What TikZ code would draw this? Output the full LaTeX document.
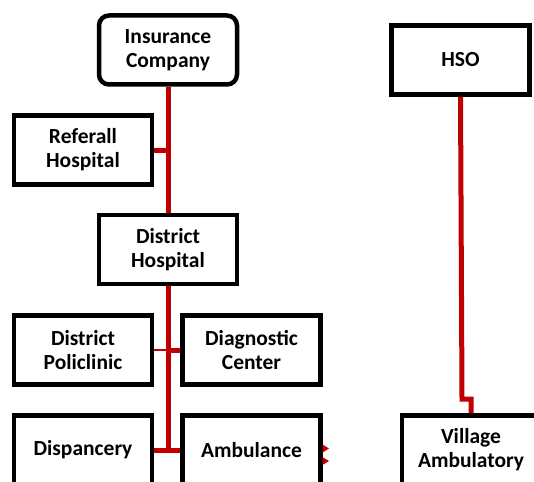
\documentclass[tikz,border=0pt]{standalone}
\usepackage{fontspec}
\setmainfont{Carlito}
\usetikzlibrary{backgrounds}
\definecolor{linkred}{RGB}{192,0,0}
\begin{document}
\begin{tikzpicture}[x=1pt,y=-1pt,
  box/.style={draw=black,line width=4.5pt,fill=white,minimum width=138pt,minimum height=69pt,
    align=center,font=\fontsize{21.5}{24}\selectfont\bfseries,inner sep=0pt},
  rbox/.style={box,rounded corners=10pt},
  link/.style={draw=linkred,line width=5pt},
  thinlink/.style={draw=linkred,line width=2pt}]
\useasboundingbox (0,0) rectangle (534,481);
\clip (0,0) rectangle (534,481);
\coordinate (trunkend) at (168,450);
\coordinate (jog) at (462,399);
\node[rbox] (ins) at (168,50) {Insurance\\Company};
\node[box] (ref) at (83,150) {Referall\\Hospital};
\node[box] (dh) at (168,249.5) {District\\Hospital};
\node[box] (pol) at (83,350) {District\\Policlinic};
\node[box] (diag) at (251.5,350) {Diagnostic\\Center};
\node[box] (disp) at (83,450) {Dispancery};
\node[box] (amb) at (251.5,450) {Ambulance};
\node[box] (hso) at (460.5,60) {HSO};
\node[box] (va) at (471,450) {Village\\Ambulatory};
\begin{scope}[on background layer]
\draw[link] (ins.south) -- (trunkend);
\draw[link] (ref.east) -- (ref.east -| trunkend);
\draw[thinlink] (pol.east) -- (pol.east -| trunkend);
\draw[link] (diag.west) -- (diag.west -| trunkend);
\draw[link] (disp.east) -- (amb.west);
\draw[link,line join=miter] (hso.south) -- (jog) -- (jog -| va.north) -- (va.north);
\end{scope}
% small arrowheads at the right side of Ambulance
\fill[linkred] (322.5,444.5) -- (329,448.5) -- (322.5,452.5) -- cycle;
\fill[linkred] (322.5,457) -- (329,461) -- (322.5,465) -- cycle;
\end{tikzpicture}
\end{document}
